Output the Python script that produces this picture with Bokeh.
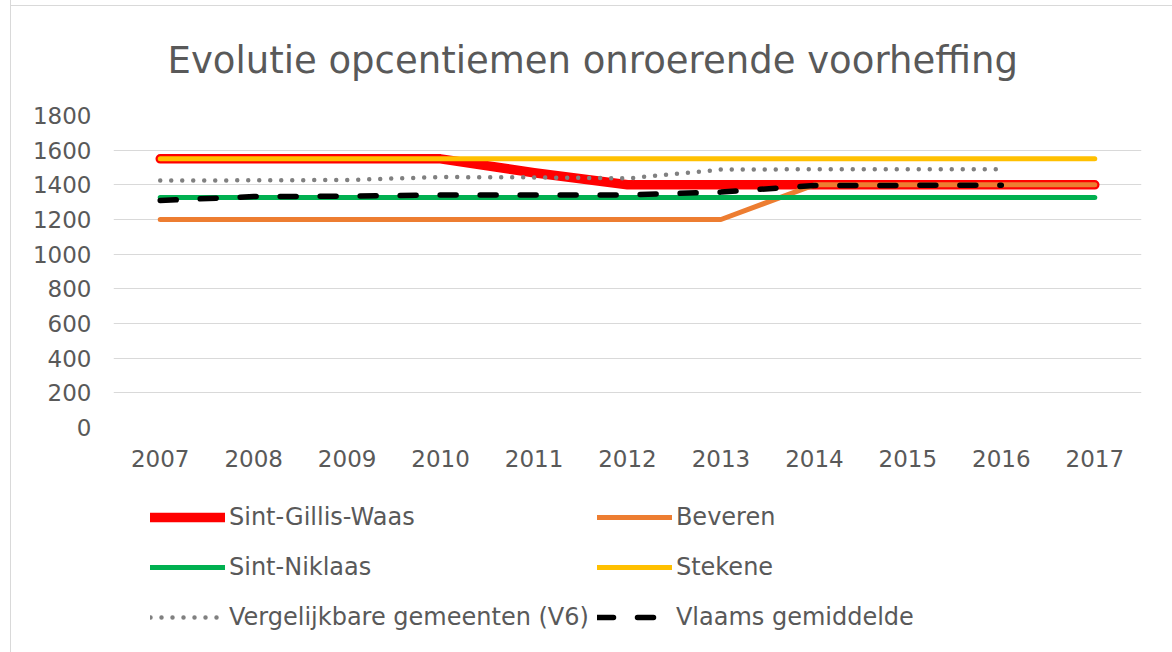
from bokeh.plotting import figure
from bokeh.models import FactorRange, Range1d, FixedTicker, Legend, LegendItem
from bokeh.layouts import column
from bokeh.embed import file_html
from bokeh.resources import INLINE

# ---- data -------------------------------------------------------------
years = ["2007", "2008", "2009", "2010", "2011", "2012", "2013", "2014", "2015", "2016", "2017"]
years_short = ["2007", "2008", "2009", "2010", "2011", "2012", "2013", "2014", "2015", "2016"]

sint_gillis_waas = [1550, 1550, 1550, 1550, 1470, 1400, 1400, 1400, 1400, 1400, 1400]
beveren = [1200, 1200, 1200, 1200, 1200, 1200, 1200, 1400, 1400, 1400, 1400]
sint_niklaas = [1327, 1327, 1327, 1327, 1327, 1327, 1327, 1327, 1327, 1327, 1327]
stekene = [1550, 1550, 1550, 1550, 1550, 1550, 1550, 1550, 1550, 1550, 1550]
vergelijkbare_v6 = [1425, 1426, 1428, 1445, 1443, 1437, 1488, 1490, 1490, 1490]
vlaams_gemiddelde = [1310, 1332, 1335, 1342, 1342, 1342, 1358, 1396, 1397, 1397]

y_ticks = [0, 200, 400, 600, 800, 1000, 1200, 1400, 1600, 1800]

title_text = "Evolutie opcentiemen onroerende voorheffing"
labels = ["Sint-Gillis-Waas", "Beveren", "Sint-Niklaas", "Stekene",
          "Vergelijkbare gemeenten (V6)", "Vlaams gemiddelde"]

TEXT = "#595959"
FONT = "DejaVu Sans"

styles = [
    dict(line_color="#FF0000", line_width=9.5),
    dict(line_color="#ED7D31", line_width=5),
    dict(line_color="#00B050", line_width=5),
    dict(line_color="#FFC000", line_width=5),
    dict(line_color="#808080", line_width=4.5, line_dash="0 11"),
    dict(line_color="#000000", line_width=5.5, line_dash="16 24"),
]
common = dict(line_cap="round", line_join="round")
series = [
    (years, sint_gillis_waas),
    (years, beveren),
    (years, sint_niklaas),
    (years, stekene),
    (years_short, vergelijkbare_v6),
    (years_short, vlaams_gemiddelde),
]

# ---- chart figure -------------------------------------------------------
p = figure(width=1161, height=480,
           x_range=FactorRange(factors=years), y_range=Range1d(0, 1800),
           output_backend="svg", toolbar_location=None,
           min_border_left=102, min_border_right=31,
           min_border_top=115, min_border_bottom=53)
p.outline_line_color = None
p.background_fill_color = "white"
p.border_fill_alpha = 0

p.title.text = title_text
p.title.align = "left"
p.title.offset = 54
p.title.standoff = 68
p.title.text_font = FONT
p.title.text_font_size = "37px"
p.title.text_font_style = "normal"
p.title.text_color = TEXT

p.xgrid.grid_line_color = None
p.ygrid.grid_line_color = "#D9D9D9"
p.ygrid.grid_line_width = 1
p.yaxis.ticker = FixedTicker(ticks=y_ticks)

for ax in (p.xaxis[0], p.yaxis[0]):
    ax.axis_line_color = None
    ax.major_tick_line_color = None
    ax.minor_tick_line_color = None
    ax.major_tick_out = 0
    ax.major_tick_in = 0
    ax.major_label_text_font = FONT
    ax.major_label_text_font_size = "23px"
    ax.major_label_text_color = TEXT
p.yaxis.major_label_standoff = 22
p.xaxis.major_label_standoff = 22

for (xs, ys), st in zip(series, styles):
    p.line(x=xs, y=ys, **st, **common)

# ---- legend figure (its lines fall outside its own range, only the legend shows) ----
lg = figure(width=1161, height=172, x_range=FactorRange(factors=years), y_range=Range1d(0, 1),
            output_backend="svg", toolbar_location=None,
            x_axis_location=None, y_axis_location=None,
            min_border_left=0, min_border_right=0, min_border_top=0, min_border_bottom=0)
lg.outline_line_color = None
lg.xgrid.grid_line_color = None
lg.ygrid.grid_line_color = None
lg.background_fill_color = "white"
lg.border_fill_alpha = 0

items = []
for lab, (xs, ys), st in zip(labels, series, styles):
    r = lg.line(x=xs, y=ys, **st, **common)
    items.append(LegendItem(label=lab, renderers=[r]))

legend = Legend(items=items, orientation="horizontal", ncols=2, location=(37, 14))
legend.padding = 0
legend.margin = 0
legend.spacing = 8
legend.glyph_width = 75
legend.glyph_height = 42
legend.label_height = 42
legend.label_standoff = 4
legend.label_text_font = FONT
legend.label_text_font_size = "24px"
legend.label_text_color = TEXT
legend.background_fill_alpha = 0
legend.border_line_color = None
lg.add_layout(legend, "center")

layout = column(p, lg, spacing=0)
layout.styles = {
    "margin-left": "11px",
    "margin-top": "0px",
    "background": "linear-gradient(#D9D9D9, #D9D9D9) 0px 5px / 100% 1px no-repeat, white",
    "box-shadow": "-1px 0px 0px 0px #D9D9D9",
}

open("out.html", "w").write(file_html(layout, INLINE))
